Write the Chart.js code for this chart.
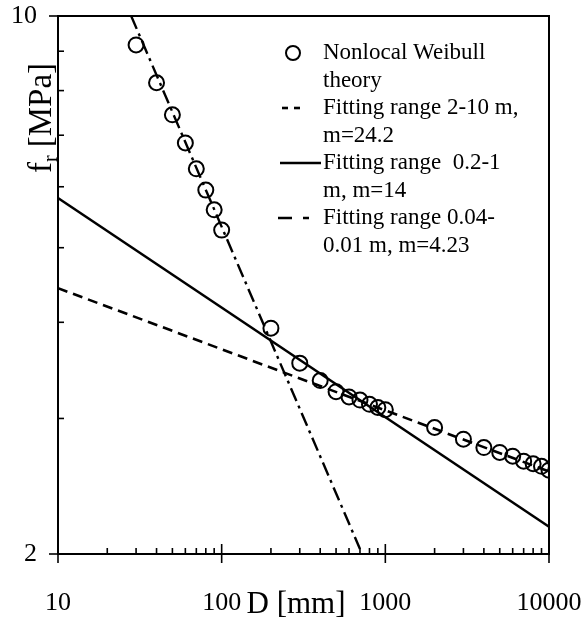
<!DOCTYPE html>
<html><head><meta charset="utf-8">
<script src="https://cdn.jsdelivr.net/npm/chart.js@4.4.1/dist/chart.umd.min.js"></script>
<style>html,body{margin:0;padding:0;background:#fff}</style>
</head><body>
<canvas id="c" width="585" height="621"></canvas>
<script>
// ---- data ----
const sizeD = [30,40,50,60,70,80,90,100,200,300,400,500,600,700,800,900,1000,2000,3000,4000,5000,6000,7000,8000,9000,10000];
const strengthFr = [9.17,8.19,7.44,6.84,6.33,5.94,5.60,5.27,3.93,3.54,3.36,3.25,3.20,3.17,3.13,3.10,3.08,2.92,2.82,2.75,2.71,2.68,2.64,2.62,2.60,2.57];
const fitLargeD = [10, 10000];
const fitLargeFr = [4.43, 2.56];
const fitMidD = [10, 10000];
const fitMidFr = [5.80, 2.17];
const fitSmallD = [28, 700];
const fitSmallFr = [10, 2.03];
const xTickValues = [10,20,30,40,50,60,70,80,90,100,200,300,400,500,600,700,800,900,1000,2000,3000,4000,5000,6000,7000,8000,9000,10000];
const xMajor = [10,100,1000,10000];
const yTickValues = [2,3,4,5,6,7,8,9,10];
const yMajor = [2,10];
const legendTexts = [
  ["Nonlocal Weibull","theory"],
  ["Fitting range 2-10 m,","m=24.2"],
  ["Fitting range  0.2-1","m, m=14"],
  ["Fitting range 0.04-","0.01 m, m=4.23"]
];

const pts = (xs, ys) => xs.map((x, i) => ({x, y: ys[i]}));
const SERIF = "'Liberation Serif', 'DejaVu Serif', serif";

const decor = {
  id: 'decor',
  afterDraw(chart) {
    const ctx = chart.ctx, a = chart.chartArea;
    const xs = chart.scales.x, ys = chart.scales.y;
    ctx.save();
    ctx.strokeStyle = '#000'; ctx.fillStyle = '#000';
    // box
    ctx.lineWidth = 2;
    ctx.strokeRect(a.left, a.top, a.right - a.left, a.bottom - a.top);
    // x ticks
    ctx.lineWidth = 1.6;
    xTickValues.forEach(v => {
      const px = xs.getPixelForValue(v);
      ctx.beginPath();
      if (xMajor.includes(v)) { ctx.moveTo(px, a.bottom - 10); ctx.lineTo(px, a.bottom + 9); }
      else { ctx.moveTo(px, a.bottom); ctx.lineTo(px, a.bottom - 6); }
      ctx.stroke();
    });
    // y ticks
    yTickValues.forEach(v => {
      const py = ys.getPixelForValue(v);
      ctx.beginPath();
      if (yMajor.includes(v)) { ctx.moveTo(a.left - 9, py); ctx.lineTo(a.left + 8, py); }
      else { ctx.moveTo(a.left, py); ctx.lineTo(a.left + 6, py); }
      ctx.stroke();
    });
    // x title
    ctx.font = "31px " + SERIF;
    ctx.textAlign = 'center'; ctx.textBaseline = 'middle';
    ctx.fillText('D [mm]', 296, 605);
    // y title with subscript
    ctx.save();
    ctx.translate(38, 118);
    ctx.rotate(-Math.PI / 2);
    ctx.textAlign = 'left'; ctx.textBaseline = 'alphabetic';
    const big = "33px " + SERIF, small = "20px " + SERIF;
    ctx.font = big; const wf = ctx.measureText('f').width; const wm = ctx.measureText(' [MPa]').width;
    ctx.font = small; const wr = ctx.measureText('r').width;
    let u = -(wf + wr + wm) / 2;
    ctx.font = big; ctx.fillText('f', u, 13); u += wf;
    ctx.font = small; ctx.fillText('r', u, 19); u += wr;
    ctx.font = big; ctx.fillText(' [MPa]', u, 13);
    ctx.restore();
    // legend
    const lg = chart.options.plugins.decor;
    ctx.font = lg.fontSize + "px " + SERIF;
    ctx.textAlign = 'left'; ctx.textBaseline = 'middle';
    let y = lg.top;
    chart.data.datasets.forEach((ds, i) => {
      const s = lg.samples[i];
      ctx.save();
      ctx.strokeStyle = ds.borderColor; ctx.lineWidth = ds.borderWidth;
      if (ds.showLine === false) {
        ctx.beginPath(); ctx.arc(s.cx, y, ds.pointRadius - 0.5, 0, Math.PI * 2); ctx.stroke();
      } else {
        ctx.setLineDash(s.dash);
        ctx.beginPath(); ctx.moveTo(s.x0, y); ctx.lineTo(s.x1, y); ctx.stroke();
      }
      ctx.restore();
      ds.label.forEach(line => { ctx.fillText(line, lg.textX, y); y += lg.lineStep; });
    });
    ctx.restore();
  }
};

new Chart(document.getElementById('c'), {
  type: 'scatter',
  data: {
    datasets: [
      { label: legendTexts[0], data: pts(sizeD, strengthFr), showLine: false,
        pointStyle: 'circle', pointRadius: 7.5, pointHoverRadius: 7.5, borderWidth: 2,
        borderColor: '#000', backgroundColor: 'rgba(0,0,0,0)' },
      { label: legendTexts[1], data: pts(fitLargeD, fitLargeFr), showLine: true, pointRadius: 0,
        borderColor: '#000', borderWidth: 2.6, borderDash: [10, 6] },
      { label: legendTexts[2], data: pts(fitMidD, fitMidFr), showLine: true, pointRadius: 0,
        borderColor: '#000', borderWidth: 2.4 },
      { label: legendTexts[3], data: pts(fitSmallD, fitSmallFr), showLine: true, pointRadius: 0,
        borderColor: '#000', borderWidth: 2.4, borderDash: [14, 5, 3, 5] }
    ]
  },
  options: {
    responsive: false,
    animation: false,
    devicePixelRatio: 1,
    layout: { padding: { left: 0, top: 16, right: 36, bottom: 0 } },
    plugins: {
      legend: { display: false },
      tooltip: { enabled: false },
      decor: {
        top: 53, textX: 323, lineStep: 27.5, fontSize: 23,
        samples: [
          { cx: 293 },
          { x0: 282, x1: 300, dash: [6, 6] },
          { x0: 280, x1: 321, dash: [] },
          { x0: 278, x1: 310, dash: [14, 11, 6, 100] }
        ]
      }
    },
    scales: {
      x: {
        type: 'logarithmic', min: 10, max: 10000, position: 'bottom',
        grid: { display: false },
        border: { display: true, color: '#000', width: 2 },
        afterBuildTicks: s => { s.ticks = xTickValues.map(v => ({ value: v })); },
        afterFit: s => { s.height = 67; s.paddingLeft = 0; s.paddingRight = 0; s.paddingTop = 0; s.paddingBottom = 0; },
        ticks: {
          autoSkip: false, maxRotation: 0, minRotation: 0, padding: 26, color: '#000',
          font: { family: SERIF, size: 26 },
          callback: v => xMajor.includes(v) ? String(v) : ''
        }
      },
      y: {
        type: 'logarithmic', min: 2, max: 10, position: 'left',
        grid: { display: false },
        border: { display: true, color: '#000', width: 2 },
        afterBuildTicks: s => { s.ticks = yTickValues.map(v => ({ value: v })); },
        afterFit: s => { s.width = 58; s.paddingLeft = 0; s.paddingRight = 0; s.paddingTop = 0; s.paddingBottom = 0; },
        ticks: {
          autoSkip: false, padding: 13, color: '#000',
          font: { family: SERIF, size: 26 },
          callback: v => yMajor.includes(v) ? String(v) : ''
        }
      }
    }
  },
  plugins: [decor]
});
</script>
</body></html>
